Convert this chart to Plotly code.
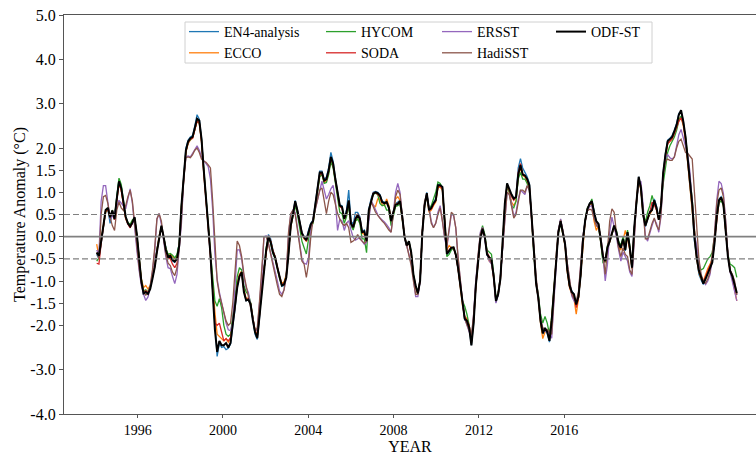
import plotly.graph_objects as go

# ---------------- data (monthly anomalies, 288 months) ----------------
odf_st = [
    -0.36,-0.43,-0.10,0.29,0.60,0.65,0.44,0.59,0.40,0.85,1.25,1.10,
    0.74,0.45,0.30,0.23,0.32,0.44,0.05,-0.50,-1.00,-1.28,-1.25,-1.29,
    -1.18,-0.95,-0.70,-0.35,0.00,0.25,0.00,-0.30,-0.45,-0.43,-0.52,-0.56,
    -0.50,-0.20,0.70,1.30,1.95,2.15,2.22,2.25,2.45,2.66,2.62,2.20,
    1.50,0.95,0.25,-0.40,-1.20,-2.10,-2.60,-2.35,-2.45,-2.45,-2.40,-2.50,
    -2.40,-2.00,-1.65,-1.15,-0.90,-0.80,-1.25,-1.44,-1.42,-1.52,-1.88,-2.15,
    -2.29,-1.80,-1.15,-0.75,-0.30,0.00,-0.12,-0.35,-0.47,-0.70,-0.92,-1.10,
    -1.08,-0.92,-0.40,0.25,0.50,0.80,0.59,0.30,0.08,-0.02,-0.08,0.10,
    0.28,0.35,0.70,1.08,1.45,1.45,1.27,1.30,1.50,1.80,1.65,1.30,
    1.00,0.70,0.67,0.40,0.55,0.82,0.30,0.21,0.40,0.48,0.40,0.10,
    0.12,-0.10,0.60,0.82,0.97,1.00,0.98,0.93,0.78,0.75,0.78,0.65,
    0.35,0.55,0.72,0.74,0.80,0.45,0.00,-0.20,-0.10,-0.35,-0.85,-1.10,
    -1.28,-1.00,0.10,0.70,0.98,0.60,0.65,0.75,0.82,1.16,1.16,1.12,
    0.29,-0.39,-0.32,-0.25,-0.24,-0.40,-0.70,-1.10,-1.55,-1.85,-1.90,-2.05,
    -2.45,-1.95,-1.10,-0.60,-0.05,0.18,0.00,-0.40,-0.47,-0.51,-0.90,-1.45,
    -1.30,-0.95,-0.20,0.75,1.20,1.05,0.95,0.86,0.89,1.40,1.62,1.40,
    1.38,1.30,1.16,0.45,-0.40,-1.05,-1.38,-1.90,-2.18,-2.06,-2.15,-2.35,
    -1.90,-1.20,-0.50,0.10,0.35,0.10,-0.17,-0.75,-1.10,-1.25,-1.30,-1.53,
    -1.35,-0.85,-0.10,0.36,0.62,0.74,0.80,0.55,0.35,0.29,-0.09,-0.45,
    -0.55,-0.24,-0.10,0.06,0.25,0.10,-0.15,-0.25,-0.05,-0.30,0.10,-0.24,
    -0.70,0.20,0.85,1.35,1.10,0.50,0.25,0.40,0.55,0.60,0.82,0.65,
    0.38,0.70,1.45,1.85,2.15,2.20,2.25,2.38,2.52,2.75,2.85,2.60,
    2.25,1.75,1.20,0.74,0.00,-0.47,-0.77,-0.93,-1.06,-0.95,-0.81,-0.70,
    -0.58,-0.15,0.45,0.82,0.89,0.72,0.10,-0.45,-0.78,-0.89,-1.08,-1.27,
]

en4 = [
    -0.40,-0.50,-0.15,0.25,0.58,0.62,0.30,0.55,0.38,0.88,1.28,1.12,
    0.75,0.42,0.28,0.22,0.30,0.42,0.02,-0.52,-1.02,-1.30,-1.22,-1.26,
    -1.15,-0.92,-0.68,-0.30,0.02,0.22,-0.02,-0.32,-0.48,-0.45,-0.55,-0.58,
    -0.45,-0.15,0.75,1.35,2.00,2.18,2.25,2.28,2.50,2.75,2.65,2.22,
    1.52,0.95,0.22,-0.45,-1.25,-2.15,-2.70,-2.40,-2.50,-2.48,-2.55,-2.52,
    -2.42,-2.02,-1.65,-1.12,-0.88,-0.80,-1.22,-1.45,-1.40,-1.55,-1.90,-2.20,
    -2.32,-1.82,-1.12,-0.72,-0.25,0.05,-0.05,-0.30,-0.45,-0.70,-0.95,-1.12,
    -1.10,-0.90,-0.38,0.28,0.55,0.82,0.60,0.32,0.10,0.00,-0.05,0.15,
    0.30,0.38,0.72,1.10,1.48,1.48,1.28,1.35,1.55,1.90,1.70,1.32,
    1.02,0.72,0.70,0.42,0.60,1.05,0.35,0.28,0.55,0.55,0.45,0.12,
    0.15,-0.08,0.62,0.85,1.00,1.02,1.00,0.95,0.80,0.78,0.80,0.68,
    0.38,0.58,0.75,0.78,0.82,0.45,-0.02,-0.22,-0.12,-0.35,-0.88,-1.12,
    -1.30,-1.02,0.08,0.70,1.00,0.62,0.68,0.78,0.85,1.18,1.18,1.12,
    0.30,-0.40,-0.35,-0.28,-0.25,-0.42,-0.72,-1.12,-1.58,-1.88,-1.92,-2.08,
    -2.45,-1.95,-1.12,-0.62,-0.08,0.15,-0.02,-0.42,-0.48,-0.52,-0.92,-1.48,
    -1.32,-0.95,-0.22,0.72,1.20,1.02,0.92,0.85,0.92,1.55,1.76,1.55,
    1.45,1.35,1.20,0.42,-0.42,-1.08,-1.40,-1.92,-2.20,-2.10,-2.18,-2.38,
    -1.92,-1.22,-0.52,0.12,0.38,0.12,-0.15,-0.72,-1.08,-1.22,-1.30,-1.55,
    -1.38,-0.88,-0.12,0.35,0.62,0.75,0.82,0.58,0.35,0.28,-0.10,-0.48,
    -0.58,-0.28,-0.12,0.05,0.22,0.08,-0.18,-0.28,-0.08,-0.32,0.08,-0.28,
    -0.72,0.18,0.85,1.35,1.12,0.48,0.22,0.38,0.55,0.62,0.85,0.68,
    0.40,0.72,1.45,1.88,2.18,2.22,2.28,2.40,2.55,2.78,2.82,2.62,
    2.22,1.70,1.12,0.65,-0.10,-0.55,-0.85,-0.98,-1.08,-0.92,-0.78,-0.68,
    -0.55,-0.12,0.48,0.85,0.90,0.72,0.10,-0.42,-0.75,-0.88,-1.10,-1.32,
]

ecco = [
    -0.17,-0.45,-0.05,0.30,0.55,0.62,0.45,0.55,0.42,0.82,1.20,1.05,
    0.72,0.40,0.30,0.25,0.35,0.40,0.00,-0.48,-0.95,-1.15,-1.10,-1.18,
    -1.10,-0.90,-0.65,-0.30,0.02,0.22,0.00,-0.28,-0.42,-0.40,-0.45,-0.50,
    -0.45,-0.20,0.65,1.25,1.90,2.10,2.18,2.22,2.40,2.60,2.55,2.15,
    1.45,0.90,0.25,-0.40,-1.10,-1.70,-2.20,-2.25,-2.30,-2.35,-2.30,-2.38,
    -2.30,-1.90,-1.55,-1.05,-0.85,-0.78,-1.20,-1.40,-1.38,-1.50,-1.85,-2.10,
    -2.20,-1.75,-1.10,-0.70,-0.28,0.00,-0.10,-0.32,-0.45,-0.68,-0.90,-1.05,
    -1.02,-0.85,-0.38,0.25,0.48,0.75,0.55,0.28,0.05,-0.05,-0.10,0.05,
    0.25,0.32,0.68,1.05,1.40,1.40,1.22,1.25,1.45,1.75,1.60,1.28,
    0.98,0.68,0.65,0.40,0.50,0.75,0.28,0.18,0.35,0.40,0.35,0.08,
    0.05,-0.12,0.55,0.78,0.70,0.68,0.85,0.85,0.72,0.70,0.85,0.70,
    0.35,0.55,0.85,0.90,0.82,0.45,0.00,-0.20,-0.15,-0.38,-0.90,-1.15,
    -1.30,-1.00,0.10,0.68,0.95,0.55,0.60,0.70,0.78,1.10,1.12,1.05,
    0.25,-0.30,-0.20,-0.25,-0.25,-0.40,-0.70,-1.10,-1.55,-1.80,-1.85,-2.00,
    -2.40,-1.90,-1.10,-0.60,-0.05,0.15,0.00,-0.38,-0.55,-0.60,-0.95,-1.45,
    -1.30,-0.95,-0.20,0.72,1.15,1.00,0.78,0.70,0.80,1.35,1.55,1.38,
    1.35,1.25,1.10,0.40,-0.40,-1.05,-1.40,-1.95,-2.30,-2.15,-2.10,-2.25,
    -1.85,-1.15,-0.48,0.10,0.32,0.08,-0.20,-0.80,-1.15,-1.30,-1.40,-1.75,
    -1.40,-0.85,-0.15,0.35,0.60,0.72,0.75,0.35,0.14,0.25,-0.12,-0.48,
    -0.58,-0.25,-0.12,0.05,0.22,0.05,-0.25,-0.30,-0.10,0.14,-0.05,-0.30,
    -0.72,0.18,0.82,1.30,1.05,0.48,0.25,0.40,0.52,0.60,0.80,0.62,
    0.40,0.72,1.40,1.80,2.10,2.15,2.22,2.35,2.45,2.65,2.70,2.50,
    2.15,1.65,1.12,0.65,-0.05,-0.50,-0.80,-0.95,-1.00,-0.85,-0.72,-0.62,
    -0.50,-0.10,0.45,0.80,0.88,0.70,0.10,-0.40,-0.78,-0.95,-1.20,-1.45,
]

hycom = [
    -0.55,-0.48,-0.12,0.25,0.58,0.65,0.42,0.60,0.45,0.90,1.32,1.18,
    0.80,0.45,0.32,0.28,0.38,0.42,0.05,-0.45,-0.95,-1.22,-1.20,-1.25,
    -1.12,-0.90,-0.65,-0.30,0.00,0.22,0.00,-0.25,-0.40,-0.38,-0.42,-0.48,
    -0.40,-0.15,0.72,1.28,1.92,2.12,2.20,2.25,2.42,2.62,2.58,2.18,
    1.50,0.95,0.28,-0.35,-1.00,-1.45,-1.57,-1.40,-1.60,-2.00,-2.20,-2.25,
    -2.20,-1.85,-1.40,-0.90,-0.70,-0.75,-1.10,-1.25,-1.30,-1.48,-1.85,-2.15,
    -2.25,-1.75,-1.10,-0.70,-0.25,0.00,-0.15,-0.38,-0.50,-0.72,-0.95,-1.10,
    -1.05,-0.88,-0.40,0.22,0.45,0.70,0.50,0.15,-0.10,-0.25,-0.39,-0.05,
    0.20,0.30,0.60,1.00,1.35,1.40,1.20,1.22,1.40,1.70,1.55,1.20,
    0.85,0.55,0.52,0.30,0.45,0.70,0.25,0.15,0.35,0.40,0.30,-0.05,
    -0.05,-0.36,0.50,0.80,0.95,0.98,0.95,0.75,0.70,0.72,0.60,0.60,
    0.25,0.45,0.68,0.70,0.75,0.40,0.00,-0.20,-0.10,-0.35,-0.85,-1.10,
    -1.25,-0.98,0.10,0.70,0.95,0.62,0.70,0.85,1.00,1.23,1.20,1.10,
    0.25,-0.45,-0.40,-0.30,-0.25,-0.40,-0.68,-1.05,-1.45,-1.57,-1.75,-2.00,
    -2.35,-1.85,-1.05,-0.55,0.05,0.25,0.05,-0.30,-0.36,-0.40,-0.85,-1.40,
    -1.25,-0.90,-0.20,0.70,1.15,1.00,0.70,0.65,0.80,1.30,1.45,1.30,
    1.30,1.20,1.05,0.45,-0.40,-1.00,-1.30,-1.75,-1.95,-1.80,-1.95,-2.20,
    -1.80,-1.15,-0.48,0.08,0.30,0.08,-0.18,-0.72,-1.10,-1.28,-1.35,-1.50,
    -1.35,-0.85,-0.10,0.38,0.65,0.72,0.85,0.55,0.30,0.22,-0.12,-0.60,
    -0.55,-0.20,-0.05,0.08,0.20,0.15,-0.10,-0.20,0.00,-0.20,0.15,-0.20,
    -0.70,0.15,0.82,1.30,1.08,0.55,0.32,0.55,0.70,0.93,0.75,0.62,
    0.40,0.65,1.20,1.61,1.90,2.05,2.15,2.25,2.40,2.62,2.72,2.55,
    2.25,1.80,1.30,0.85,0.15,-0.40,-0.65,-0.75,-0.72,-0.60,-0.50,-0.45,
    -0.35,0.00,0.40,0.75,0.82,0.70,0.15,-0.40,-0.62,-0.65,-0.70,-0.92,
]

soda = [
    -0.60,-0.62,-0.15,0.28,0.58,0.62,0.42,0.58,0.38,0.82,1.20,1.05,
    0.72,0.42,0.28,0.20,0.30,0.42,0.02,-0.52,-1.00,-1.25,-1.22,-1.25,
    -1.15,-0.92,-0.68,-0.32,0.00,0.22,0.00,-0.30,-0.48,-0.50,-0.62,-0.70,
    -0.60,-0.25,0.68,1.28,1.92,2.12,2.20,2.22,2.40,2.60,2.58,2.15,
    1.45,0.90,0.20,-0.45,-1.30,-1.95,-2.00,-1.95,-2.15,-2.35,-2.30,-2.35,
    -2.28,-1.95,-1.60,-1.10,-0.88,-0.80,-1.22,-1.42,-1.40,-1.52,-1.88,-2.12,
    -2.25,-1.78,-1.12,-0.72,-0.28,0.02,-0.10,-0.32,-0.46,-0.70,-0.92,-1.08,
    -1.05,-0.90,-0.40,0.22,0.50,0.78,0.58,0.30,0.08,-0.02,-0.10,0.08,
    0.26,0.34,0.68,1.05,1.42,1.42,1.25,1.28,1.48,1.78,1.62,1.28,
    0.98,0.68,0.65,0.40,0.52,0.80,0.30,0.22,0.42,0.50,0.42,0.10,
    0.10,-0.10,0.58,0.82,0.98,1.00,0.95,0.90,0.78,0.75,0.78,0.65,
    0.35,0.55,0.72,0.75,0.80,0.42,0.00,-0.22,-0.12,-0.38,-0.88,-1.12,
    -1.28,-1.00,0.10,0.70,0.97,0.60,0.62,0.72,0.82,1.12,1.14,1.08,
    0.28,-0.38,-0.30,-0.25,-0.25,-0.42,-0.72,-1.12,-1.55,-1.82,-1.88,-2.00,
    -2.35,-1.90,-1.10,-0.60,-0.05,0.15,-0.02,-0.35,-0.45,-0.55,-0.92,-1.45,
    -1.28,-0.95,-0.20,0.72,1.18,1.02,0.90,0.82,0.90,1.45,1.65,1.42,
    1.38,1.28,1.12,0.42,-0.42,-1.05,-1.38,-1.88,-2.15,-2.08,-2.12,-2.30,
    -1.88,-1.20,-0.50,0.10,0.35,0.10,-0.18,-0.75,-1.12,-1.28,-1.35,-1.60,
    -1.38,-0.85,-0.12,0.35,0.62,0.74,0.80,0.52,0.32,0.28,-0.10,-0.45,
    -0.55,-0.25,-0.10,0.05,0.25,0.08,-0.18,-0.25,-0.06,-0.28,0.08,-0.26,
    -0.70,0.18,0.82,1.32,1.08,0.50,0.28,0.42,0.55,0.78,0.72,0.60,
    0.38,0.68,1.40,1.82,2.10,2.15,2.20,2.32,2.45,2.60,2.68,2.55,
    2.22,1.80,1.25,0.78,0.05,-0.45,-0.75,-0.90,-1.02,-0.90,-0.75,-0.65,
    -0.55,-0.12,0.42,0.80,0.88,0.72,0.12,-0.42,-0.75,-0.90,-1.10,-1.30,
]

ersst = [
    -0.30,-0.40,0.80,1.15,1.15,0.80,0.40,0.45,0.55,0.68,0.82,0.75,
    0.70,0.63,0.85,1.08,0.75,0.15,-0.30,-0.75,-1.10,-1.30,-1.44,-1.36,
    -1.15,-0.80,-0.35,0.40,0.52,0.28,-0.15,-0.45,-0.70,-0.72,-0.90,-1.06,
    -0.85,-0.35,0.30,1.30,1.80,1.82,1.80,1.88,1.98,2.05,1.95,1.80,
    1.72,1.65,1.58,1.30,0.60,-0.40,-0.95,-1.25,-1.50,-1.75,-1.95,-2.10,
    -2.12,-1.95,-1.10,-0.30,-0.30,-0.50,-0.90,-1.15,-1.25,-1.55,-1.85,-2.15,
    -2.10,-1.55,-0.90,0.00,0.02,-0.15,-0.35,-0.55,-0.75,-1.00,-1.23,-1.30,
    -1.20,-0.92,0.05,0.50,0.60,0.55,0.21,-0.15,-0.50,-0.60,-0.62,-0.47,
    0.14,0.40,0.62,0.85,1.10,1.25,1.05,0.85,0.95,1.08,1.16,0.82,
    0.14,0.40,0.35,0.14,0.30,0.36,0.15,-0.02,-0.08,-0.05,-0.02,-0.10,
    -0.17,-0.13,0.40,0.82,0.72,0.60,0.50,0.42,0.38,0.33,0.27,0.20,
    0.10,0.50,1.00,1.20,1.00,0.45,0.00,-0.20,-0.40,-0.60,-0.95,-1.35,
    -1.35,-1.00,0.10,0.75,0.95,0.65,0.35,0.21,0.30,0.55,0.70,0.35,
    -0.05,-0.24,0.20,0.50,0.48,0.20,-0.47,-1.00,-1.45,-1.85,-2.00,-2.15,
    -2.29,-1.75,-0.95,-0.47,0.10,0.21,-0.05,-0.40,-0.55,-0.62,-0.90,-1.50,
    -1.30,-0.90,-0.30,0.25,1.00,0.95,0.75,0.45,0.55,0.85,1.05,1.00,
    0.95,1.15,1.05,0.40,-0.30,-0.95,-1.38,-1.85,-2.10,-2.14,-2.14,-2.20,
    -2.29,-1.50,-0.45,0.15,0.40,0.15,-0.17,-0.60,-1.00,-1.34,-1.45,-1.50,
    -1.30,-0.70,0.00,0.36,0.60,0.68,0.70,0.45,0.28,0.21,0.00,-0.45,
    -1.00,-0.62,0.10,0.44,0.25,0.00,-0.30,-0.55,-0.35,-0.45,-0.55,-0.80,
    -0.90,-0.10,0.80,1.20,1.25,0.70,0.00,-0.10,0.10,0.25,0.40,0.30,
    0.10,0.45,1.40,1.75,1.85,1.78,1.75,1.80,2.05,2.30,2.42,2.23,
    2.00,1.85,1.45,0.85,0.05,-0.20,-0.62,-0.90,-1.00,-1.08,-1.00,-0.85,
    -0.50,0.00,0.82,1.25,1.20,0.97,0.36,-0.40,-0.80,-1.00,-1.20,-1.45,
]

hadisst = [
    -0.35,-0.50,0.50,0.90,0.93,0.75,0.44,0.25,0.14,0.60,0.78,0.65,
    0.59,0.70,0.90,1.05,0.80,0.25,-0.25,-0.70,-1.05,-1.25,-1.32,-1.28,
    -1.10,-0.75,-0.25,0.40,0.52,0.35,-0.05,-0.40,-0.60,-0.65,-0.80,-0.88,
    -0.70,-0.25,0.40,1.30,1.78,1.80,1.78,1.85,1.95,2.00,1.90,1.75,
    1.70,1.68,1.62,1.55,0.80,0.00,-1.00,-1.30,-1.50,-1.70,-1.90,-2.00,
    -1.95,-1.50,-0.70,-0.10,-0.20,-0.45,-0.85,-1.10,-1.30,-1.55,-1.85,-2.15,
    -2.05,-1.45,-0.70,0.00,0.00,-0.15,-0.40,-0.65,-0.85,-1.10,-1.30,-1.35,
    -1.20,-0.85,0.10,0.52,0.60,0.50,0.15,-0.20,-0.55,-0.62,-0.92,-0.60,
    0.00,0.40,0.60,0.85,1.05,1.10,0.80,0.52,0.80,1.00,0.95,0.70,
    0.52,0.40,0.30,0.25,0.30,0.20,-0.13,-0.10,-0.05,0.05,-0.05,-0.10,
    -0.15,-0.10,0.45,0.80,0.65,0.55,0.48,0.40,0.35,0.30,0.22,0.15,
    0.10,0.45,0.90,1.05,0.95,0.50,0.05,-0.20,-0.40,-0.65,-1.00,-1.30,
    -1.30,-0.95,0.15,0.80,0.95,0.60,0.30,0.20,0.30,0.50,0.65,0.35,
    0.00,-0.20,0.25,0.55,0.50,0.20,-0.45,-1.00,-1.45,-1.85,-2.00,-2.15,
    -2.25,-1.75,-0.95,-0.40,0.05,0.20,0.00,-0.35,-0.50,-0.60,-0.85,-1.45,
    -1.30,-0.90,-0.25,0.30,1.00,0.95,0.70,0.42,0.50,0.80,1.05,1.05,
    1.00,1.15,1.05,0.50,-0.25,-0.90,-1.35,-1.85,-2.05,-2.10,-2.10,-2.15,
    -2.20,-1.40,-0.40,0.15,0.38,0.15,-0.15,-0.60,-1.00,-1.30,-1.40,-1.45,
    -1.25,-0.65,0.00,0.35,0.58,0.62,0.60,0.40,0.25,0.20,0.00,-0.40,
    -0.85,-0.30,0.35,0.63,0.55,0.10,-0.25,-0.45,-0.25,-0.40,-0.45,-0.75,
    -0.85,-0.05,0.80,1.20,1.15,0.60,-0.05,-0.05,0.15,0.30,0.42,0.25,
    0.15,0.50,1.40,1.70,1.75,1.72,1.72,1.80,2.00,2.15,2.20,2.05,
    1.90,1.88,1.80,1.75,1.00,0.10,-0.50,-0.85,-1.00,-1.05,-0.95,-0.80,
    -0.40,0.05,0.75,1.05,1.10,0.90,0.35,-0.40,-0.75,-0.85,-1.00,-1.30,
]

months = list(range(len(odf_st)))          # month index, Jan of first year = 0
year_tick_pos = [18.4, 56.6, 94.9, 133.1, 171.4, 209.6]
year_tick_text = ["1996", "2000", "2004", "2008", "2012", "2016"]
y_tick_vals = [-4, -3, -2, -1.5, -1, -0.5, 0, 0.5, 1, 1.5, 2, 3, 4, 5]

# name, values, colour, width, legend column
series = [
    ("EN4-analysis", en4, "#1f77b4", 1.3, "legend"),
    ("ECCO", ecco, "#ff7f0e", 1.3, "legend"),
    ("HYCOM", hycom, "#2ca02c", 1.3, "legend2"),
    ("SODA", soda, "#d62728", 1.3, "legend2"),
    ("ERSST", ersst, "#9467bd", 1.3, "legend3"),
    ("HadiSST", hadisst, "#8c564b", 1.3, "legend3"),
    ("ODF-ST", odf_st, "#000000", 2.0, "legend4"),
]

FONT = "Liberation Serif, Times New Roman, serif"

# plot-area geometry (px) used to place the legend columns
L, T, W, H = 64, 15, 692, 399


def px_x(p):
    return (p - L) / W


def px_y(p):
    return (T + H - p) / H


fig = go.Figure()
for name, vals, color, width, leg in series:
    fig.add_trace(go.Scatter(
        x=months, y=vals, mode="lines", name=name,
        line=dict(color=color, width=width),
        legend=leg,
    ))

fig.add_hline(y=0, line=dict(color="#808080", width=1.6))
fig.add_hline(y=0.5, line=dict(color="#808080", width=1.2, dash="6px,3px"))
fig.add_hline(y=-0.5, line=dict(color="#808080", width=1.2, dash="6px,3px"))

# legend frame
fig.add_shape(type="rect", xref="paper", yref="paper",
              x0=px_x(185), x1=px_x(652), y0=px_y(63), y1=px_y(22),
              line=dict(color="#d0d0d0", width=1),
              fillcolor="rgba(255,255,255,0.85)", layer="above")

leg_common = dict(
    orientation="v", yanchor="top", xanchor="left",
    bgcolor="rgba(0,0,0,0)", borderwidth=0,
    font=dict(family=FONT, size=14, color="black"),
    itemwidth=30, tracegroupgap=0,
)
col_line_start = [190, 327, 443, 557]
leg_top = 16

fig.update_layout(
    width=756, height=455,
    margin=dict(l=L, r=0, t=T, b=455 - T - H),
    paper_bgcolor="white", plot_bgcolor="white",
    font=dict(family=FONT, size=15, color="black"),
    showlegend=True,
    legend=dict(x=px_x(col_line_start[0] - 6), y=px_y(leg_top), **leg_common),
    legend2=dict(x=px_x(col_line_start[1] - 6), y=px_y(leg_top), **leg_common),
    legend3=dict(x=px_x(col_line_start[2] - 6), y=px_y(leg_top), **leg_common),
    legend4=dict(x=px_x(col_line_start[3] - 6), y=px_y(leg_top), **leg_common),
    xaxis=dict(
        range=[-14.66, 295.6],
        tickvals=year_tick_pos, ticktext=year_tick_text,
        showgrid=False, zeroline=False,
        showline=True, linecolor="#555555", linewidth=1.2, mirror=True,
        ticks="outside", ticklen=3, tickcolor="#555555",
        tickfont=dict(family=FONT, size=14),
        title=dict(text="YEAR", font=dict(family=FONT, size=16), standoff=0),
    ),
    yaxis=dict(
        range=[-4, 5],
        tickvals=y_tick_vals,
        ticktext=[f"{v:.1f}" for v in y_tick_vals],
        showgrid=False, zeroline=False,
        showline=True, linecolor="#555555", linewidth=1.2,
        ticks="outside", ticklen=4, tickcolor="#555555",
        tickfont=dict(family=FONT, size=16),
        title=dict(text="Temperature Anomaly (°C)", font=dict(family=FONT, size=16), standoff=0),
    ),
)

fig.write_html("out.html")
